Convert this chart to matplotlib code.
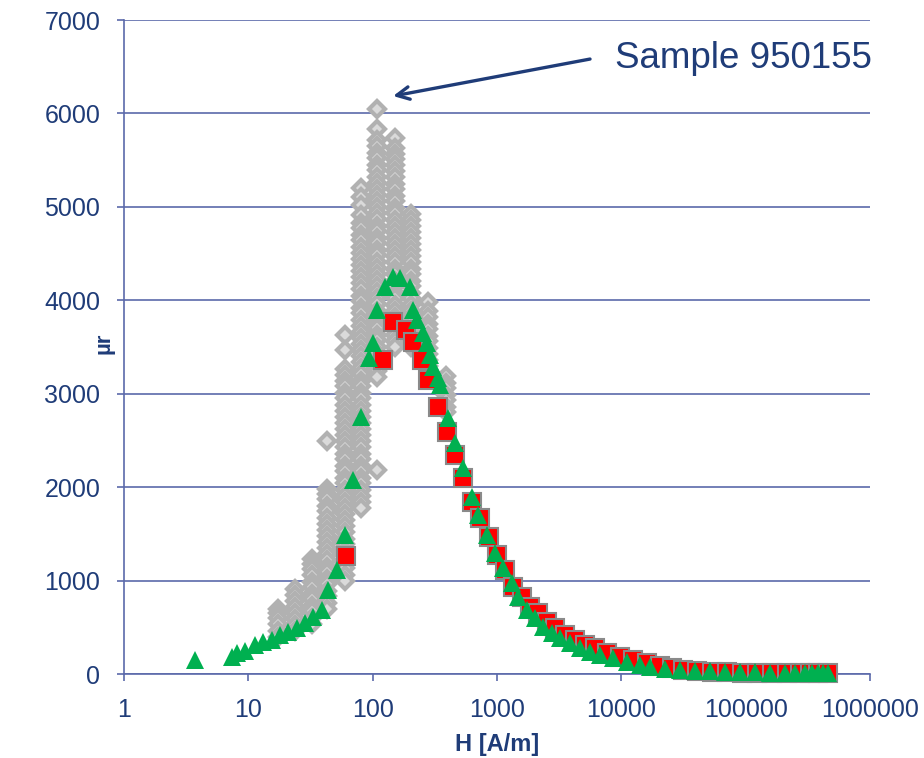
import matplotlib
matplotlib.use("Agg")
import matplotlib.pyplot as plt
import numpy as np

# ---------------- data ----------------
# gray cloud (many samples): H columns and the mu_r values stacked in each column
gray_col_h = [17.3, 23.7, 32.5, 43, 60, 80.5, 108, 151, 203, 279, 389]
gray_col_mu = [
    [400, 460, 530, 600, 650, 700],
    [460, 520, 590, 650, 720, 780, 850, 910],
    [540, 600, 670, 730, 800, 860, 930, 990, 1060, 1120, 1180, 1230],
    [700, 760, 830, 890, 960, 1020, 1090, 1150, 1220, 1280, 1350, 1410, 1480, 1540,
     1610, 1670, 1740, 1800, 1870, 1930, 1980, 2490],
    [1000, 1060, 1130, 1190, 1260, 1320, 1390, 1450, 1520, 1580, 1650, 1710, 1780, 1840,
     1910, 1970, 2040, 2100, 2170, 2230, 2300, 2360, 2430, 2490, 2560, 2620, 2690, 2750,
     2820, 2880, 2950, 3010, 3080, 3140, 3200, 3264, 3470, 3630],
    [1780, 1840, 1910, 1970, 2040, 2100, 2170, 2230, 2300, 2360, 2430, 2490, 2560, 2620,
     2690, 2750, 2820, 2880, 2950, 3010, 3080, 3140, 3210, 3270, 3340, 3400, 3470, 3530,
     3600, 3660, 3730, 3790, 3860, 3920, 3990, 4050, 4120, 4180, 4250, 4310, 4380, 4440,
     4510, 4570, 4640, 4700, 4770, 4830, 4910, 5020, 5105, 5200],
    [2183, 3180, 3240, 3310, 3370, 3440, 3500, 3570, 3630, 3700, 3760, 3830, 3890, 3960,
     4020, 4090, 4150, 4220, 4280, 4350, 4410, 4480, 4540, 4610, 4670, 4740, 4800, 4870,
     4930, 5000, 5060, 5130, 5190, 5260, 5320, 5390, 5450, 5520, 5580, 5650, 5715, 5833, 6047],
    [3500, 3560, 3630, 3690, 3760, 3820, 3890, 3950, 4020, 4080, 4150, 4210, 4280, 4340,
     4410, 4470, 4540, 4600, 4670, 4730, 4800, 4860, 4930, 4990, 5060, 5120, 5190, 5250,
     5320, 5380, 5450, 5510, 5570, 5630, 5735],
    [3500, 3560, 3630, 3690, 3760, 3820, 3890, 3950, 4020, 4080, 4150, 4210, 4280, 4340,
     4410, 4470, 4540, 4600, 4670, 4730, 4800, 4860, 4923],
    [3300, 3360, 3430, 3490, 3560, 3620, 3690, 3750, 3820, 3880, 3980],
    [2800, 2860, 2930, 2990, 3060, 3120, 3190],
]

red_h = [61, 122, 147, 185, 212, 248, 280, 337, 394, 459, 536, 630, 730, 860, 995, 1159,
         1352, 1581, 1844, 2150, 2512, 2929, 3523, 4238, 5100, 6139, 7623, 9750, 12480,
         16000, 20470, 25570, 31370, 40660, 53600, 70800, 93500, 123000, 163000, 215000,
         273000, 329000, 382000, 459000]
red_mu = [1263, 3361, 3770, 3680, 3558, 3361, 3147, 2861, 2593, 2344, 2095, 1840, 1670,
          1470, 1274, 1113, 934, 827, 720, 650, 560, 489, 417, 364, 310, 275, 221, 185,
          150, 121, 90, 68, 45, 30, 22, 18, 15, 13, 12, 11, 10, 10, 9, 8]

green_h = [3.73, 7.35, 8.15, 9.4, 11.3, 13.2, 15.4, 18.0, 21.0, 24.5, 28.6, 33.3, 38.9,
           44.0, 51.4, 60, 70, 80.5, 94, 101, 109, 126, 147, 166, 200, 212, 226, 253, 272,
           289, 307, 333, 348, 406, 459, 530, 626, 707, 836, 964, 1124, 1313, 1484, 1733,
           2022, 2357, 2754, 3212, 3866, 4652, 5600, 6735, 8612, 11040, 14130, 17000,
           22450, 29650, 39150, 51650, 68200, 90100, 119000, 157000, 207000, 249000,
           300000, 342000, 382000, 419000, 459000]
green_mu = [150, 186, 221, 250, 310, 346, 364, 417, 453, 489, 542, 613, 685, 899, 1113,
            1488, 2076, 2755, 3379, 3540, 3896, 4145, 4252, 4235, 4145, 3896, 3789, 3646,
            3540, 3414, 3289, 3165, 3093, 2737, 2469, 2202, 1898, 1702, 1488, 1292, 1131,
            971, 827, 685, 596, 506, 435, 382, 328, 275, 239, 203, 168, 132, 96, 75, 58,
            45, 35, 28, 24, 20, 18, 16, 15, 14, 13, 12, 12, 11, 10]

x_ticks = [1, 10, 100, 1000, 10000, 100000, 1000000]
x_tick_labels = ["1", "10", "100", "1000", "10000", "100000", "1000000"]
y_ticks = [0, 1000, 2000, 3000, 4000, 5000, 6000, 7000]
y_tick_labels = [str(v) for v in y_ticks]

annot_text = "Sample 950155"
annot_tip = (146, 6186)
annot_start = (5600, 6582)

# ---------------- style ----------------
plt.rcParams['font.family'] = ['Liberation Sans', 'DejaVu Sans']
NAVY = '#1f3c78'
GRID = '#5b69aa'

fig = plt.figure(figsize=(9.24, 7.58), dpi=100)
W, H = 924, 758
ax = fig.add_axes([124 / W, 1 - 674 / H, (870 - 124) / W, (674 - 20) / H])

ax.set_xscale('log')
ax.set_xlim(1, 1e6)
ax.set_ylim(0, 7000)

# gray cloud: draw each column from top to bottom so lower markers sit above
for h, col in zip(gray_col_h, gray_col_mu):
    vals = sorted(col, reverse=True)
    ax.plot([h] * len(vals), vals, linestyle='none', marker='D', markersize=8.6,
            markerfacecolor='#dadada', markeredgecolor='#b1b1b1',
            markeredgewidth=3.0, clip_on=False, zorder=3)

ax.plot(red_h, red_mu, linestyle='none', marker='s', markersize=12.5,
        markerfacecolor='#ff0000', markeredgecolor='#8a8a8a', markeredgewidth=1.5,
        clip_on=False, zorder=4)
ax.plot(green_h, green_mu, linestyle='none', marker='^', markersize=13,
        markerfacecolor='#00b050', markeredgecolor='#00b050', markeredgewidth=0,
        clip_on=False, zorder=5)

# axes and grid
ax.set_xticks(x_ticks)
ax.set_xticklabels(x_tick_labels)
ax.set_yticks(y_ticks)
ax.set_yticklabels(y_tick_labels)
ax.minorticks_off()
ax.yaxis.grid(True, color=GRID, linewidth=1.2)
ax.set_axisbelow(True)
for s in ['top', 'right']:
    ax.spines[s].set_visible(False)
for s in ['left', 'bottom']:
    ax.spines[s].set_color(GRID)
    ax.spines[s].set_linewidth(1.2)
ax.tick_params(axis='both', direction='out', length=5, width=1.2, color=GRID,
               labelcolor=NAVY, labelsize=18)
ax.tick_params(axis='y', pad=12)
ax.tick_params(axis='x', pad=12)

fig.text(104 / W, 1 - 343 / H, 'µr', rotation=90, ha='center', va='center',
         fontsize=16, fontweight='bold', color=NAVY)
fig.text(497 / W, 1 - 745 / H, 'H [A/m]', ha='center', va='center',
         fontsize=17, fontweight='bold', color=NAVY)

ax.annotate('', xy=annot_tip, xytext=annot_start,
            arrowprops=dict(arrowstyle='->,head_length=0.9,head_width=0.45',
                            color='#1f3c78', lw=2.4, shrinkA=0, shrinkB=0),
            zorder=6)
ax.text(8895, 6593, annot_text, ha='left', va='center', fontsize=26.5, color=NAVY,
        zorder=6)

fig.savefig('out.png', dpi=100)
